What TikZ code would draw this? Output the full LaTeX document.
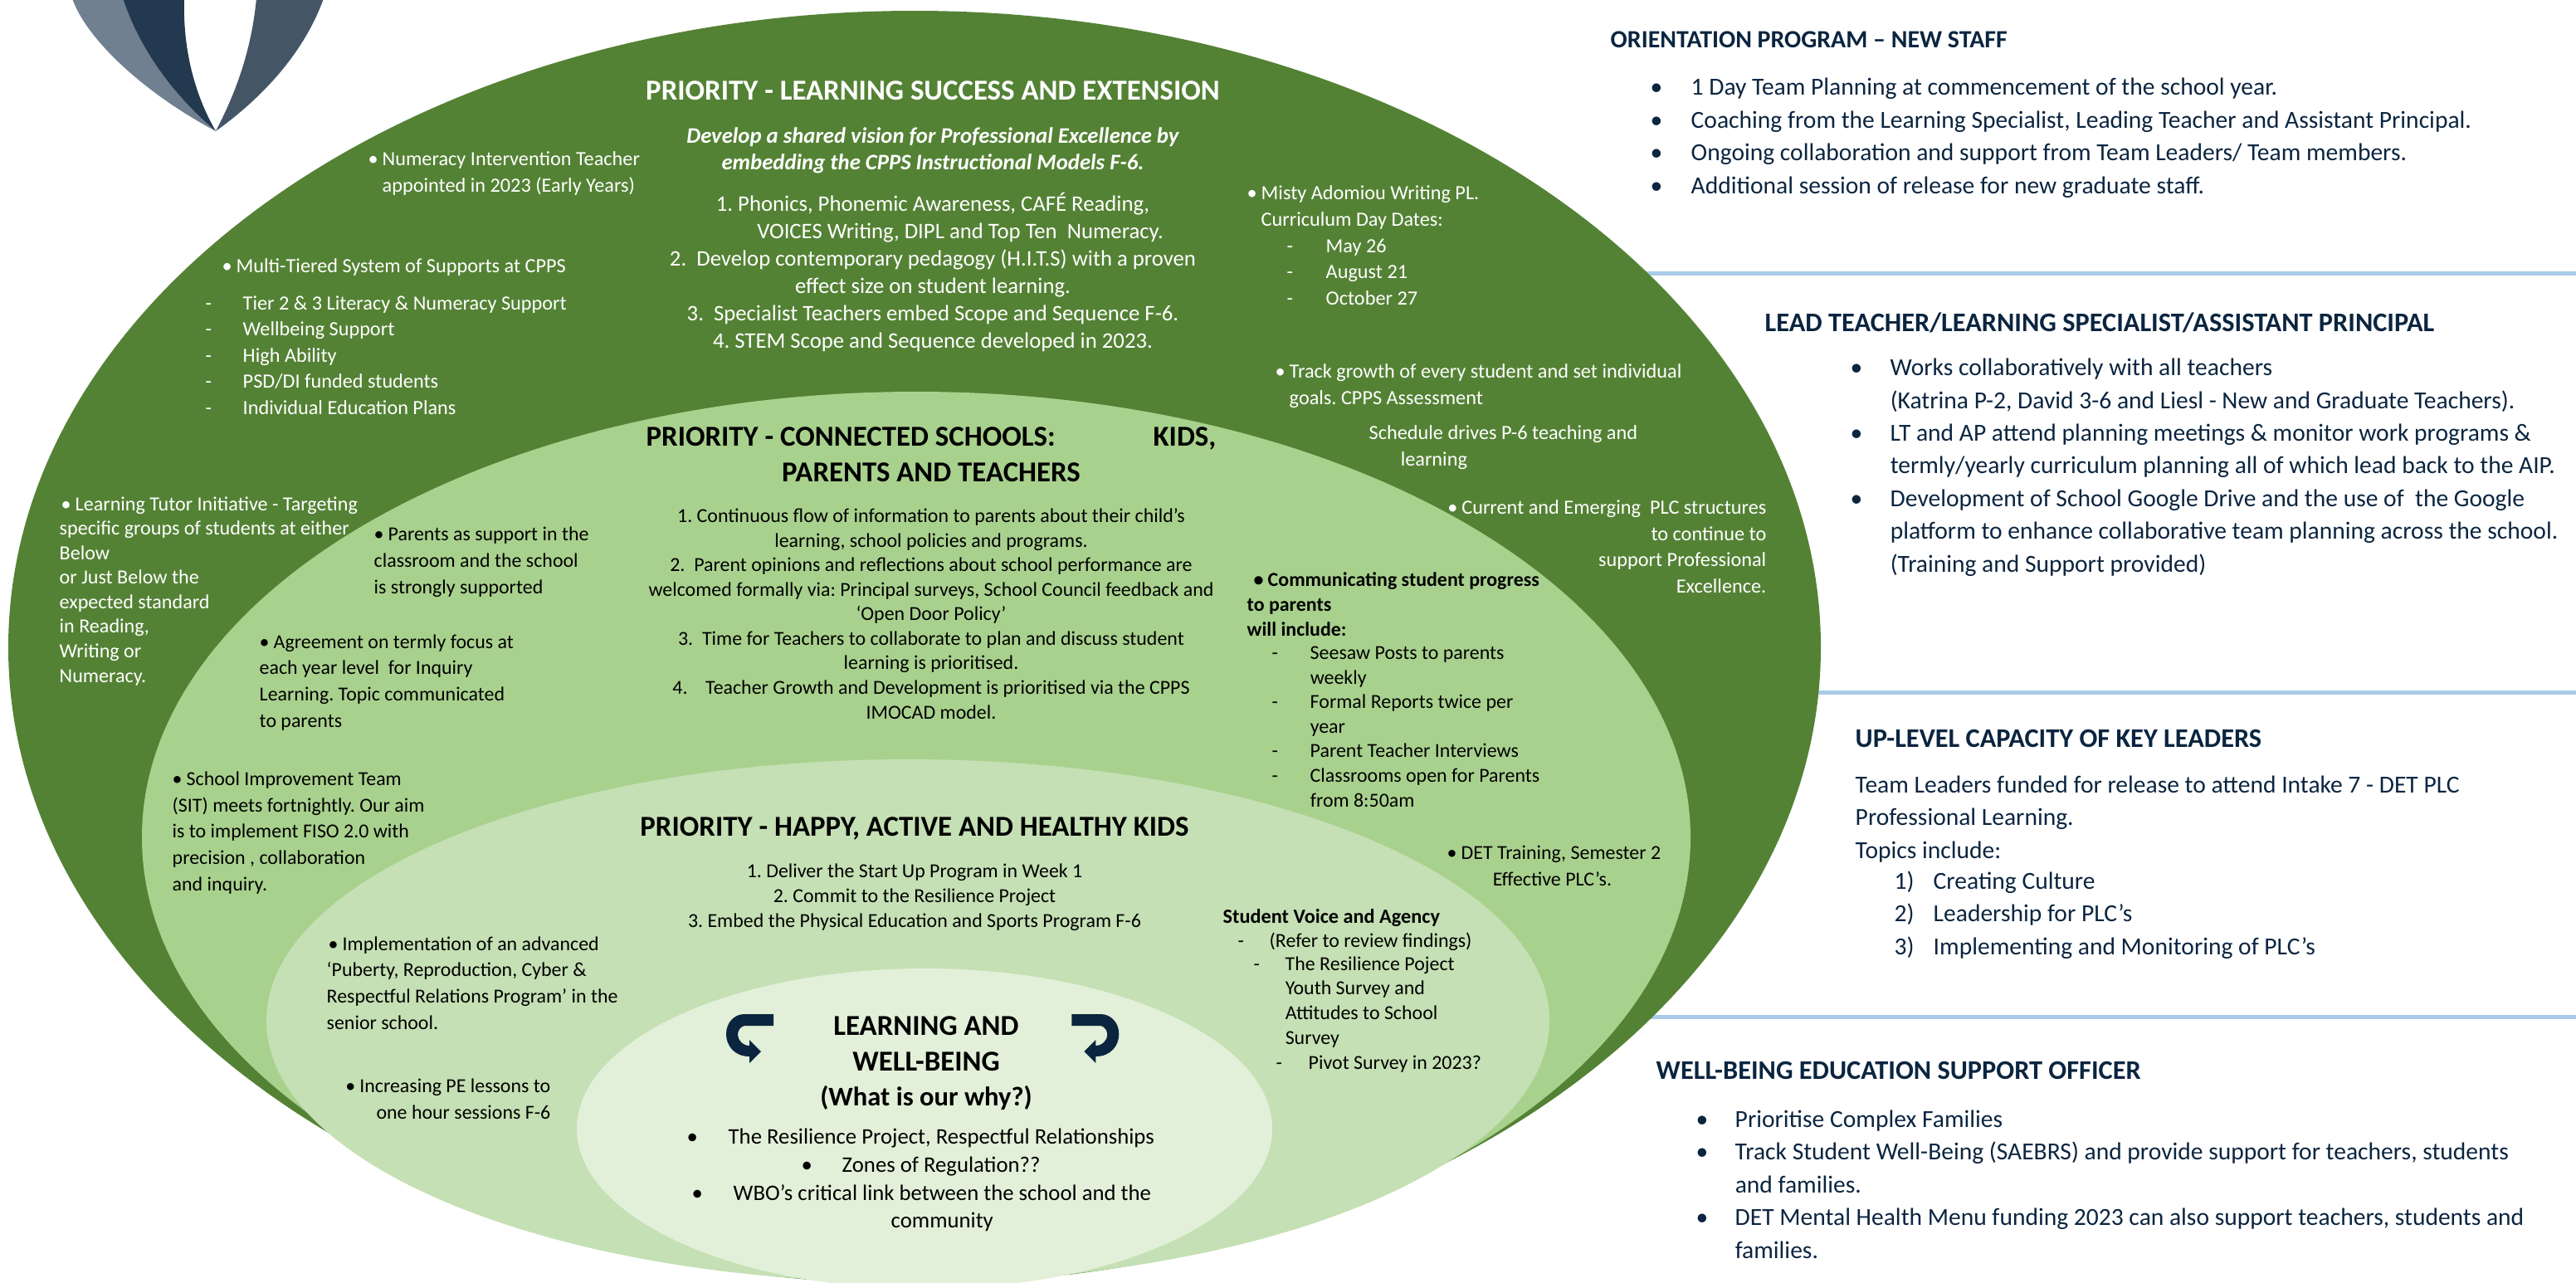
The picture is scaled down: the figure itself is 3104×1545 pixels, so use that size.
\documentclass[tikz,border=0pt]{standalone}
\usepackage{fontspec}
\setmainfont{Carlito}
\definecolor{leafdark}{HTML}{548235}
\definecolor{leafmid}{HTML}{A9D18E}
\definecolor{leaflight}{HTML}{C5E0B4}
\definecolor{leafpale}{HTML}{E2F0D9}
\definecolor{navyink}{HTML}{0B2540}
\definecolor{rulesky}{HTML}{A9CBE8}
\definecolor{crestgrey}{HTML}{708090}
\definecolor{crestdark}{HTML}{22394F}
\definecolor{crestblue}{HTML}{445666}
\newcommand{\bu}{\makebox[0.17cm][l]{\textbullet}}
\newcommand{\hg}{\hspace*{0.17cm}}
\newcommand{\da}[1]{\makebox[#1][l]{-}}
\newcommand{\turnarrow}{%
    \fill[navyink] (932,1222) -- (932,1236) -- (897,1236) .. controls (892,1237) and (889,1242) .. (889,1247)
        .. controls (889,1253) and (895,1260) .. (903,1260) -- (903,1253) -- (917,1267) -- (903,1281) -- (903,1273)
        .. controls (885,1273) and (875,1260) .. (875,1246) .. controls (875,1232) and (885,1222) .. (897,1222) -- cycle;}
\tikzset{
    txt/.style={inner sep=0pt,anchor=base west,align=left,yshift=-0.08cm},
    ctr/.style={inner sep=0pt,anchor=base,align=center,yshift=-0.08cm},
    rgt/.style={inner sep=0pt,anchor=base east,align=right,yshift=-0.08cm},
    wh/.style={text=white,font=\fontsize{6.9}{8.95}\selectfont},
    bk/.style={text=black,font=\fontsize{6.8}{8.4}\selectfont},
    bkw/.style={text=black,font=\fontsize{6.8}{9.0}\selectfont},
    bighead/.style={font=\fontsize{9.9}{12.2}\selectfont\bfseries,yshift=-0.03cm},
    nv/.style={text=navyink,font=\fontsize{8.4}{11.2}\selectfont,yshift=-0.02cm},
    nvhead/.style={text=navyink,font=\fontsize{9.2}{11}\selectfont\bfseries,yshift=-0.02cm},
    wrule/.style={rulesky,line width=0.05cm}
}
\begin{document}
\frenchspacing
\begin{tikzpicture}[line cap=round,line join=round,x=0.01cm,y=-0.01cm]
    \clip (0,0) rectangle (3104,1545);
    % rules behind the ellipses
    \draw[wrule] (1980,329) -- (3104,329);
    \draw[wrule] (2150,834) -- (3104,834);
    \draw[wrule] (1980,1225) -- (3104,1225);
    % crest
    \fill[crestgrey] (87,-2) .. controls (103,45) and (170,110) .. (260,158) .. controls (215,120) and (170,65) .. (148,-2) -- cycle;
    \fill[crestdark] (148,-2) .. controls (170,65) and (215,120) .. (260,158) .. controls (235,115) and (220,60) .. (222,-2) -- cycle;
    \fill[crestblue] (309,-2) .. controls (303,60) and (285,110) .. (260,158) .. controls (320,115) and (368,60) .. (390,-2) -- cycle;
    % nested ellipses
    \fill[leafdark] (1102,780) ellipse (1092 and 767);
    \fill[leafmid] (1104,1009) ellipse (933 and 537);
    \fill[leaflight] (1094,1230) ellipse (773 and 315);
    \fill[leafpale] (1114,1360) ellipse (419 and 193);
    \turnarrow
    \begin{scope}[xshift=22.22cm,xscale=-1]
        \turnarrow
    \end{scope}

    % outer ring
    \node[ctr,text=white,bighead] (titlelearn) at (1124,109) {PRIORITY - LEARNING SUCCESS AND EXTENSION};
    \node[ctr,wh,font=\fontsize{7.6}{9.1}\selectfont\bfseries\itshape] (vision) at (1124,196) {Develop a shared vision for Professional Excellence by\\embedding the CPPS Instructional Models F-6.};
    \node[ctr,wh,font=\fontsize{7.6}{9.33}\selectfont] (learnlist) at (1124,411) {1. Phonics, Phonemic Awareness, CAFÉ Reading,\\\hspace*{0.66cm}VOICES Writing, DIPL and Top Ten\ \ Numeracy.\\2.\ \ Develop contemporary pedagogy (H.I.T.S) with a proven\\effect size on student learning.\\3.\ \ Specialist Teachers embed Scope and Sequence F-6.\\4. STEM Scope and Sequence developed in 2023.};
    \node[txt,wh] (numeracy) at (443,223) {\bu Numeracy Intervention Teacher\\\hg appointed in 2023 (Early Years)};
    \node[txt,wh] (tiered) at (267,320) {\bu Multi-Tiered System of Supports at CPPS};
    \node[txt,wh] (tierlist) at (247,491) {\da{0.45cm}Tier 2 \& 3 Literacy \& Numeracy Support\\\da{0.45cm}Wellbeing Support\\\da{0.45cm}High Ability\\\da{0.45cm}PSD/DI funded students\\\da{0.45cm}Individual Education Plans};
    \node[txt,wh] (misty) at (1502,264) {\bu Misty Adomiou Writing PL.\\\hg Curriculum Day Dates:};
    \node[txt,wh] (dates) at (1550,359) {\da{0.47cm}May 26\\\da{0.47cm}August 21\\\da{0.47cm}October 27};
    \node[txt,wh] (track) at (1536,479) {\bu Track growth of every student and set individual\\\hg goals. CPPS Assessment};
    \node[txt,wh] (schedule) at (1649,553) {Schedule drives P-6 teaching and\\\hspace*{0.38cm}learning};
    \node[rgt,wh] (plc) at (2129,706) {\bu Current and Emerging\ \ PLC structures\\to continue to\\support Professional\\Excellence.};
    \node[txt,wh,font=\fontsize{6.85}{8.4}\selectfont] (tutor) at (71,814) {\hspace*{0.02cm}\bu Learning Tutor Initiative - Targeting\\specific groups of students at either\\Below\\or Just Below the\\expected standard\\in Reading,\\Writing or\\Numeracy.};

    % second ring
    \node[ctr,bk,bighead] (titleconnect) at (1122,569) {PRIORITY - CONNECTED SCHOOLS:\hspace{1.18cm}KIDS,\\PARENTS AND TEACHERS};
    \node[ctr,bk] (connectlist) at (1122,858) {1. Continuous flow of information to parents about their child’s\\learning, school policies and programs.\\2.\ \ Parent opinions and reflections about school performance are\\welcomed formally via: Principal surveys, School Council feedback and\\‘Open Door Policy’\\3.\ \ Time for Teachers to collaborate to plan and discuss student\\learning is prioritised.\\4.\ \ \ \ Teacher Growth and Development is prioritised via the CPPS\\IMOCAD model.};
    \node[txt,bkw] (parents) at (450,707) {\bu Parents as support in the\\classroom and the school\\is strongly supported};
    \node[txt,bkw] (agree) at (312,868) {\bu Agreement on termly focus at\\each year level\ \ for Inquiry\\Learning. Topic communicated\\to parents};
    \node[txt,bkw] (sit) at (207,1065) {\bu School Improvement Team\\(SIT) meets fortnightly. Our aim\\is to implement FISO 2.0 with\\precision , collaboration\\and inquiry.};
    \node[txt,bk,font=\fontsize{6.8}{8.4}\selectfont\bfseries] (progress) at (1502,758) {\hspace*{0.08cm}\bu Communicating student progress\\to parents\\will include:};
    \node[txt,bk] (seesaw) at (1532,964) {\da{0.46cm}Seesaw Posts to parents\\\hspace*{0.46cm}weekly\\\da{0.46cm}Formal Reports twice per\\\hspace*{0.46cm}year\\\da{0.46cm}Parent Teacher Interviews\\\da{0.46cm}Classrooms open for Parents\\\hspace*{0.46cm}from 8:50am};
    \node[txt,bkw] (training) at (1743,1059) {\bu DET Training, Semester 2\\\hspace*{0.55cm}Effective PLC’s.};

    % third ring
    \node[ctr,bk,bighead] (titlehappy) at (1102,996) {PRIORITY - HAPPY, ACTIVE AND HEALTHY KIDS};
    \node[ctr,bk] (happylist) at (1102,1109) {1. Deliver the Start Up Program in Week 1\\2. Commit to the Resilience Project\\3. Embed the Physical Education and Sports Program F-6};
    \node[txt,bkw] (puberty) at (393,1232) {\hspace*{0.02cm}\bu Implementation of an advanced\\‘Puberty, Reproduction, Cyber \&\\Respectful Relations Program’ in the\\senior school.};
    \node[rgt,bkw] (pelessons) at (664,1340) {\bu Increasing PE lessons to\\one hour sessions F-6};
    \node[txt,bk,font=\fontsize{6.9}{8.4}\selectfont\bfseries] (voice) at (1473,1104) {Student Voice and Agency};
    \node[txt,bk] (review) at (1491,1133) {\da{0.38cm}(Refer to review findings)};
    \node[txt,bk] (survey) at (1510,1250) {\da{0.38cm}The Resilience Poject\\\hspace*{0.38cm}Youth Survey and\\\hspace*{0.38cm}Attitudes to School\\\hspace*{0.38cm}Survey};
    \node[txt,bk] (pivot) at (1537,1280) {\da{0.39cm}Pivot Survey in 2023?};

    % centre
    \node[ctr,bk,bighead] (titlewell) at (1116,1279) {LEARNING AND\\WELL-BEING};
    \node[ctr,bk,font=\fontsize{9.25}{11}\selectfont\bfseries,yshift=-0.03cm] (why) at (1116,1321) {(What is our why?)};
    \node[txt,bk,font=\fontsize{7.6}{9.6}\selectfont] (resilience) at (827,1370) {\makebox[0.50cm][l]{\textbullet}The Resilience Project, Respectful Relationships};
    \node[txt,bk,font=\fontsize{7.6}{9.6}\selectfont] (zones) at (965,1404) {\makebox[0.49cm][l]{\textbullet}Zones of Regulation??};
    \node[txt,bk,font=\fontsize{7.6}{9.6}\selectfont] (wbo) at (833,1438) {\makebox[0.50cm][l]{\textbullet}WBO’s critical link between the school and the};
    \node[txt,bk,font=\fontsize{7.6}{9.6}\selectfont] (community) at (1073,1471) {community};

    % right column
    \node[txt,nvhead,font=\fontsize{8.5}{11}\selectfont\bfseries] (orient) at (1940,47) {ORIENTATION PROGRAM – NEW STAFF};
    \node[txt,nv] (orientlist) at (1988,223) {\makebox[0.49cm][l]{\textbullet}1 Day Team Planning at commencement of the school year.\\\makebox[0.49cm][l]{\textbullet}Coaching from the Learning Specialist, Leading Teacher and Assistant Principal.\\\makebox[0.49cm][l]{\textbullet}Ongoing collaboration and support from Team Leaders/ Team members.\\\makebox[0.49cm][l]{\textbullet}Additional session of release for new graduate staff.};
    \node[txt,nvhead] (lead) at (2126,389) {LEAD TEACHER/LEARNING SPECIALIST/ASSISTANT PRINCIPAL};
    \node[txt,nv] (leadlist) at (2229,679) {\makebox[0.48cm][l]{\textbullet}Works collaboratively with all teachers\\\hspace*{0.48cm}(Katrina P-2, David 3-6 and Liesl - New and Graduate Teachers).\\\makebox[0.48cm][l]{\textbullet}LT and AP attend planning meetings \& monitor work programs \&\\\hspace*{0.48cm}termly/yearly curriculum planning all of which lead back to the AIP.\\\makebox[0.48cm][l]{\textbullet}Development of School Google Drive and the use of\ \ the Google\\\hspace*{0.48cm}platform to enhance collaborative team planning across the school.\\\hspace*{0.48cm}(Training and Support provided)};
    \node[txt,nvhead] (uplevel) at (2235,890) {UP-LEVEL CAPACITY OF KEY LEADERS};
    \node[txt,nv] (teamleaders) at (2235,1024) {Team Leaders funded for release to attend Intake 7 - DET PLC\\Professional Learning.\\Topics include:};
    \node[txt,nv] (topics) at (2282,1140) {\makebox[0.47cm][l]{1)}Creating Culture\\\makebox[0.47cm][l]{2)}Leadership for PLC’s\\\makebox[0.47cm][l]{3)}Implementing and Monitoring of PLC’s};
    \node[txt,nvhead] (wellbeing) at (1995,1290) {WELL-BEING EDUCATION SUPPORT OFFICER};
    \node[txt,nv] (welllist) at (2043,1506) {\makebox[0.47cm][l]{\textbullet}Prioritise Complex Families\\\makebox[0.47cm][l]{\textbullet}Track Student Well-Being (SAEBRS) and provide support for teachers, students\\\hspace*{0.47cm}and families.\\\makebox[0.47cm][l]{\textbullet}DET Mental Health Menu funding 2023 can also support teachers, students and\\\hspace*{0.47cm}families.};
\end{tikzpicture}
\end{document}
